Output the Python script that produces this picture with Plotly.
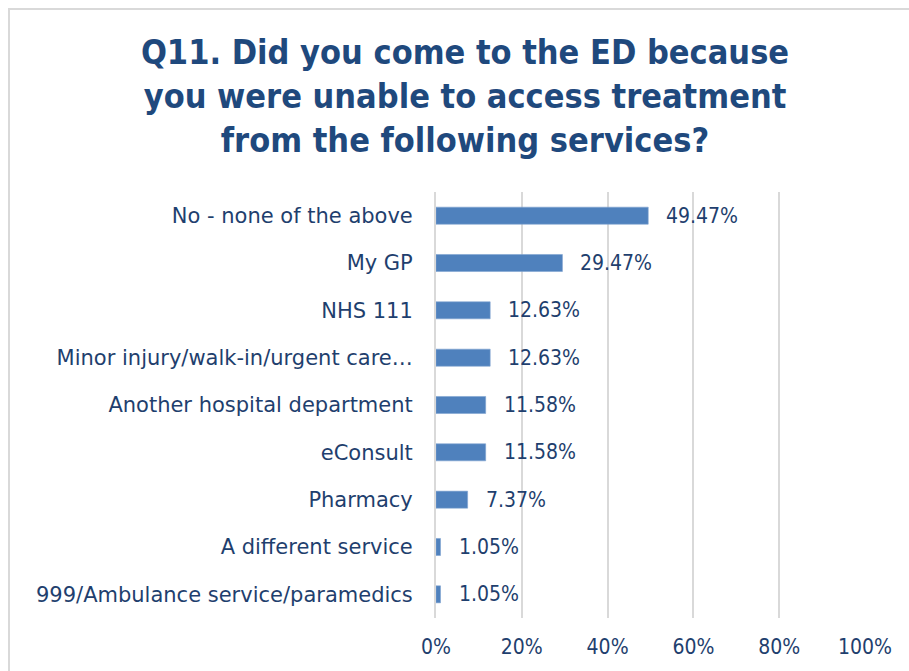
import plotly.graph_objects as go

# Survey responses (percent of respondents)
services = [
    "No - none of the above",
    "My GP",
    "NHS 111",
    "Minor injury/walk-in/urgent care…",
    "Another hospital department",
    "eConsult",
    "Pharmacy",
    "A different service",
    "999/Ambulance service/paramedics",
]
percentages = [49.47, 29.47, 12.63, 12.63, 11.58, 11.58, 7.37, 1.05, 1.05]
x_ticks = [0, 20, 40, 60, 80, 100]
x_tick_labels = ["0%", "20%", "40%", "60%", "80%", "100%"]

W, H = 909, 671
L, R, T, B = 436, 44, 192, 53
pw, ph = W - L - R, H - T - B

FONT = "DejaVu Sans, sans-serif"
FONT_NARROW = "DejaVu Sans Condensed, DejaVu Sans, sans-serif"
TEXT_COLOR = "#1F3F6E"
BAR_COLOR = "#4F81BD"
GRID_COLOR = "#D9D9D9"

fig = go.Figure(
    go.Bar(
        x=percentages,
        y=services,
        orientation="h",
        width=0.36,
        marker=dict(color=BAR_COLOR, line=dict(color="#7FA3D0", width=0.6)),
        hoverinfo="skip",
    )
)

# Value labels to the right of each bar
for name, val in zip(services, percentages):
    fig.add_annotation(
        x=val, y=name, xref="x", yref="y",
        text=f"{val:.2f}%", showarrow=False,
        xanchor="left", xshift=16,
        font=dict(family=FONT_NARROW, size=21, color=TEXT_COLOR),
    )

# Chart frame
def px_x(p):
    return (p - L) / pw

def px_y(p):
    return (H - B - p) / ph

fig.add_shape(
    type="rect", xref="paper", yref="paper",
    x0=px_x(9), x1=px_x(921), y0=px_y(690), y1=px_y(9),
    line=dict(color="#D9D9D9", width=2), fillcolor="rgba(0,0,0,0)",
    layer="below",
)

fig.update_layout(
    width=W, height=H,
    margin=dict(l=L, r=R, t=T, b=B, pad=0),
    paper_bgcolor="white",
    plot_bgcolor="white",
    showlegend=False,
    title=dict(
        text="Q11. Did you come to the ED because<br>you were unable to access treatment<br>from the following services?",
        x=465 / W, xref="container", xanchor="center",
        y=1 - 64 / H, yref="container", yanchor="top",
        font=dict(family=FONT_NARROW, size=34, color="#1F497D", weight="bold"),
    ),
    xaxis=dict(
        range=[0, 100],
        tickvals=x_ticks,
        ticktext=x_tick_labels,
        showgrid=True, gridcolor=GRID_COLOR, gridwidth=2,
        zeroline=False, showline=False,
        ticks="", ticklabelstandoff=14,
        tickfont=dict(family=FONT_NARROW, size=21, color=TEXT_COLOR),
        fixedrange=True,
    ),
    yaxis=dict(
        autorange="reversed",
        showgrid=False, zeroline=False,
        showline=True, linecolor=GRID_COLOR, linewidth=2,
        ticks="", ticklabelstandoff=17,
        tickfont=dict(family=FONT, size=21, color=TEXT_COLOR),
        fixedrange=True,
    ),
)

fig.write_html("out.html")
